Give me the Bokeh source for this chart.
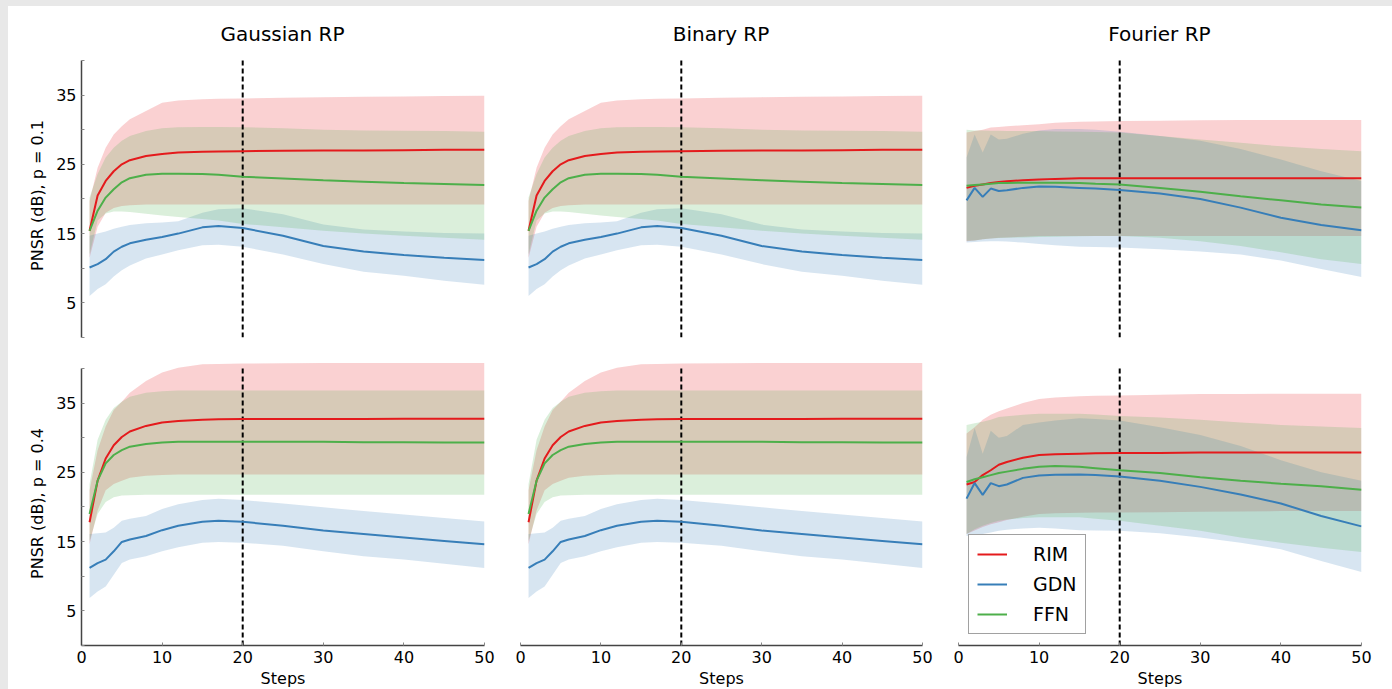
from bokeh.plotting import figure
from bokeh.layouts import column, row
from bokeh.models import ColumnDataSource, FixedTicker, Legend, LegendItem, Div
from bokeh.embed import file_html
from bokeh.resources import INLINE

# ---------------- data ----------------
STEPS = [1, 2, 3, 4, 5, 6, 8, 10, 12, 15, 17, 20, 25, 30, 35, 40, 45, 50]
MARK_STEP = 20
Y_TICKS = [5, 15, 25, 35]
Y_MINOR = [0, 10, 20, 30, 40]
X_TICKS = [0, 10, 20, 30, 40, 50]
COL_TITLES = ["Gaussian RP", "Binary RP", "Fourier RP"]
ROW_LABELS = ["PNSR (dB), p = 0.1", "PNSR (dB), p = 0.4"]
MODELS = ["RIM", "GDN", "FFN"]

# Gaussian RP, p = 0.1
G01_RIM_MEAN = [15.4, 20.5, 22.6, 24.0, 25.0, 25.6, 26.2, 26.5, 26.7, 26.8, 26.85, 26.9, 26.95, 27.0, 27.0, 27.05, 27.1, 27.1]
G01_RIM_HI = [19.7, 24.5, 27.4, 29.3, 30.5, 31.5, 32.7, 33.9, 34.2, 34.4, 34.45, 34.5, 34.6, 34.7, 34.75, 34.8, 34.85, 34.9]
G01_RIM_LO = [11.5, 16.0, 18.0, 18.7, 19.0, 19.1, 19.2, 19.2, 19.2, 19.2, 19.2, 19.2, 19.2, 19.2, 19.2, 19.2, 19.2, 19.2]
G01_GDN_MEAN = [10.1, 10.6, 11.3, 12.4, 13.1, 13.6, 14.1, 14.5, 15.0, 15.9, 16.1, 15.8, 14.7, 13.2, 12.4, 11.9, 11.5, 11.2]
G01_GDN_HI = [14.7, 15.0, 15.3, 15.7, 16.0, 16.25, 16.5, 16.6, 16.8, 18.0, 18.5, 18.65, 17.8, 16.3, 15.6, 15.3, 15.1, 15.0]
G01_GDN_LO = [6.0, 7.0, 7.7, 8.8, 9.7, 10.4, 11.4, 12.0, 12.6, 13.3, 13.4, 13.1, 12.0, 10.6, 9.5, 8.9, 8.2, 7.6]
G01_FFN_MEAN = [15.4, 18.3, 20.2, 21.4, 22.4, 23.0, 23.5, 23.65, 23.65, 23.6, 23.5, 23.2, 22.95, 22.7, 22.5, 22.3, 22.15, 22.0]
G01_FFN_HI = [20.2, 23.6, 26.0, 27.4, 28.4, 29.1, 29.8, 30.2, 30.35, 30.4, 30.4, 30.35, 30.2, 30.0, 29.9, 29.85, 29.8, 29.7]
G01_FFN_LO = [12.0, 16.9, 17.9, 18.2, 18.2, 18.1, 17.85, 17.6, 17.4, 17.1, 16.9, 16.4, 15.9, 15.4, 15.0, 14.7, 14.4, 14.1]

# Gaussian RP, p = 0.4
G04_RIM_MEAN = [17.8, 23.8, 27.0, 28.9, 30.1, 30.9, 31.7, 32.2, 32.4, 32.6, 32.65, 32.7, 32.7, 32.7, 32.7, 32.75, 32.75, 32.75]
G04_RIM_HI = [22.4, 28.2, 31.6, 34.0, 35.2, 36.5, 38.2, 39.4, 40.1, 40.6, 40.65, 40.7, 40.75, 40.8, 40.8, 40.8, 40.8, 40.8]
G04_RIM_LO = [14.6, 19.5, 22.4, 23.3, 23.8, 24.2, 24.5, 24.6, 24.7, 24.7, 24.7, 24.7, 24.7, 24.7, 24.7, 24.7, 24.7, 24.7]
G04_GDN_MEAN = [11.2, 11.9, 12.4, 13.6, 14.95, 15.3, 15.8, 16.65, 17.3, 17.85, 18.0, 17.85, 17.3, 16.6, 16.1, 15.6, 15.1, 14.6]
G04_GDN_HI = [16.1, 16.2, 16.3, 17.0, 18.0, 18.3, 18.7, 19.7, 20.4, 21.0, 21.2, 21.0, 20.5, 19.95, 19.4, 18.9, 18.4, 17.9]
G04_GDN_LO = [6.85, 7.8, 8.5, 10.2, 11.9, 12.4, 12.9, 13.6, 14.2, 14.85, 14.95, 14.85, 14.4, 13.6, 12.9, 12.4, 11.8, 11.2]
G04_FFN_MEAN = [19.0, 23.8, 26.3, 27.5, 28.2, 28.7, 29.1, 29.3, 29.4, 29.4, 29.4, 29.4, 29.4, 29.4, 29.35, 29.35, 29.3, 29.3]
G04_FFN_HI = [23.3, 29.7, 32.6, 34.3, 35.2, 35.9, 36.5, 36.7, 36.8, 36.8, 36.8, 36.8, 36.8, 36.8, 36.8, 36.8, 36.8, 36.8]
G04_FFN_LO = [15.1, 19.0, 20.7, 21.4, 21.65, 21.7, 21.75, 21.75, 21.75, 21.75, 21.75, 21.75, 21.75, 21.75, 21.75, 21.75, 21.75, 21.75]

# Binary RP reads identical to Gaussian RP in both rows
B01_RIM_MEAN, B01_RIM_HI, B01_RIM_LO = G01_RIM_MEAN, G01_RIM_HI, G01_RIM_LO
B01_GDN_MEAN, B01_GDN_HI, B01_GDN_LO = G01_GDN_MEAN, G01_GDN_HI, G01_GDN_LO
B01_FFN_MEAN, B01_FFN_HI, B01_FFN_LO = G01_FFN_MEAN, G01_FFN_HI, G01_FFN_LO
B04_RIM_MEAN, B04_RIM_HI, B04_RIM_LO = G04_RIM_MEAN, G04_RIM_HI, G04_RIM_LO
B04_GDN_MEAN, B04_GDN_HI, B04_GDN_LO = G04_GDN_MEAN, G04_GDN_HI, G04_GDN_LO
B04_FFN_MEAN, B04_FFN_HI, B04_FFN_LO = G04_FFN_MEAN, G04_FFN_HI, G04_FFN_LO

# Fourier RP, p = 0.1
F01_RIM_MEAN = [21.6, 21.9, 22.1, 22.3, 22.45, 22.55, 22.7, 22.8, 22.9, 23.0, 23.0, 23.0, 23.0, 23.0, 23.0, 23.0, 23.0, 23.0]
F01_RIM_HI = [29.6, 29.8, 30.0, 30.3, 30.4, 30.5, 30.65, 30.8, 31.0, 31.15, 31.2, 31.25, 31.3, 31.35, 31.4, 31.4, 31.4, 31.4]
F01_RIM_LO = [13.9, 14.0, 14.2, 14.3, 14.4, 14.45, 14.55, 14.65, 14.65, 14.65, 14.65, 14.65, 14.65, 14.65, 14.65, 14.65, 14.65, 14.65]
F01_GDN_MEAN = [19.8, 21.6, 20.3, 21.5, 21.15, 21.25, 21.6, 21.8, 21.75, 21.6, 21.5, 21.3, 20.8, 20.0, 18.75, 17.3, 16.25, 15.5]
F01_GDN_HI = [26.0, 29.3, 26.7, 29.3, 28.6, 28.7, 29.4, 29.9, 30.1, 30.1, 30.0, 29.7, 29.1, 28.4, 27.2, 25.7, 24.0, 22.6]
F01_GDN_LO = [13.7, 13.8, 13.85, 13.9, 13.9, 13.85, 13.7, 13.5, 13.3, 13.1, 13.05, 13.0, 12.75, 12.4, 12.0, 11.1, 9.9, 8.75]
F01_FFN_MEAN = [21.9, 22.0, 22.1, 22.2, 22.3, 22.3, 22.35, 22.35, 22.35, 22.3, 22.2, 22.1, 21.6, 21.05, 20.4, 19.8, 19.2, 18.75]
F01_FFN_HI = [30.0, 29.9, 29.9, 29.85, 29.85, 29.8, 29.8, 29.8, 29.75, 29.7, 29.65, 29.6, 29.1, 28.6, 28.1, 27.6, 27.2, 26.9]
F01_FFN_LO = [13.95, 14.0, 14.2, 14.3, 14.35, 14.4, 14.45, 14.5, 14.55, 14.6, 14.65, 14.65, 14.4, 13.9, 13.2, 12.3, 11.3, 10.6]

# Fourier RP, p = 0.4
F04_RIM_MEAN = [23.25, 23.6, 24.6, 25.3, 26.1, 26.5, 27.1, 27.5, 27.6, 27.7, 27.75, 27.8, 27.8, 27.85, 27.85, 27.85, 27.85, 27.85]
F04_RIM_HI = [30.6, 31.5, 32.6, 33.3, 33.8, 34.2, 35.0, 35.6, 35.8, 36.0, 36.05, 36.1, 36.2, 36.3, 36.3, 36.35, 36.35, 36.35]
F04_RIM_LO = [16.1, 16.6, 17.1, 17.5, 17.8, 18.1, 18.6, 19.0, 19.1, 19.15, 19.2, 19.2, 19.25, 19.3, 19.35, 19.4, 19.4, 19.4]
F04_GDN_MEAN = [21.2, 23.45, 21.75, 23.45, 23.0, 23.25, 24.2, 24.55, 24.65, 24.7, 24.6, 24.4, 23.8, 22.9, 21.8, 20.5, 18.7, 17.2]
F04_GDN_HI = [27.2, 31.4, 27.7, 31.0, 30.0, 30.25, 31.85, 32.2, 32.5, 32.8, 32.7, 32.5, 31.5, 30.4, 28.8, 26.75, 25.0, 23.8]
F04_GDN_LO = [15.8, 15.9, 16.1, 16.3, 16.55, 16.7, 16.9, 17.0, 16.9, 16.65, 16.6, 16.55, 16.2, 15.6, 14.85, 13.9, 12.2, 10.6]
F04_FFN_MEAN = [23.6, 24.0, 24.3, 24.6, 24.9, 25.1, 25.5, 25.8, 25.9, 25.8, 25.6, 25.3, 24.9, 24.3, 23.8, 23.35, 23.0, 22.5]
F04_FFN_HI = [31.85, 32.1, 32.3, 32.6, 33.0, 33.1, 33.3, 33.45, 33.45, 33.45, 33.35, 33.15, 32.9, 32.6, 32.2, 31.85, 31.6, 31.4]
F04_FFN_LO = [16.1, 16.8, 17.3, 17.7, 18.0, 18.2, 18.4, 18.5, 18.5, 18.5, 18.3, 18.0, 17.3, 16.55, 15.6, 14.85, 14.1, 13.5]

PANELS = [
    [  # row p = 0.1
        {"RIM": (G01_RIM_MEAN, G01_RIM_LO, G01_RIM_HI), "GDN": (G01_GDN_MEAN, G01_GDN_LO, G01_GDN_HI), "FFN": (G01_FFN_MEAN, G01_FFN_LO, G01_FFN_HI)},
        {"RIM": (B01_RIM_MEAN, B01_RIM_LO, B01_RIM_HI), "GDN": (B01_GDN_MEAN, B01_GDN_LO, B01_GDN_HI), "FFN": (B01_FFN_MEAN, B01_FFN_LO, B01_FFN_HI)},
        {"RIM": (F01_RIM_MEAN, F01_RIM_LO, F01_RIM_HI), "GDN": (F01_GDN_MEAN, F01_GDN_LO, F01_GDN_HI), "FFN": (F01_FFN_MEAN, F01_FFN_LO, F01_FFN_HI)},
    ],
    [  # row p = 0.4
        {"RIM": (G04_RIM_MEAN, G04_RIM_LO, G04_RIM_HI), "GDN": (G04_GDN_MEAN, G04_GDN_LO, G04_GDN_HI), "FFN": (G04_FFN_MEAN, G04_FFN_LO, G04_FFN_HI)},
        {"RIM": (B04_RIM_MEAN, B04_RIM_LO, B04_RIM_HI), "GDN": (B04_GDN_MEAN, B04_GDN_LO, B04_GDN_HI), "FFN": (B04_FFN_MEAN, B04_FFN_LO, B04_FFN_HI)},
        {"RIM": (F04_RIM_MEAN, F04_RIM_LO, F04_RIM_HI), "GDN": (F04_GDN_MEAN, F04_GDN_LO, F04_GDN_HI), "FFN": (F04_FFN_MEAN, F04_FFN_LO, F04_FFN_HI)},
    ],
]

# ---------------- style ----------------
COLORS = {"RIM": "#e41a1c", "GDN": "#377eb8", "FFN": "#4daf4a"}
FONT = "DejaVu Sans"
FRAME_W = [403, 402, 403]
FRAME_H = 284
BORDER_L = [73, 18, 18]
BORDER_R = [18, 18, 31]
TITLE_H = 40          # height of the title strip above the top row
BORDER_T = [7, 9]
BORDER_B = [15, 44]
Y_RANGE = (0, 41)
X_RANGE = (0, 50)
Y_AXIS_BOUNDS = (0, 40)


def style_axis(ax):
    ax.axis_line_color = "#444444"
    ax.axis_line_width = 1.5
    ax.major_tick_line_color = "#888888"
    ax.minor_tick_line_color = "#888888"
    ax.major_tick_in = 3
    ax.major_tick_out = 0
    ax.minor_tick_in = 3
    ax.minor_tick_out = 0
    ax.major_label_text_font = FONT
    ax.major_label_text_font_size = "16px"
    ax.major_label_text_color = "#000000"
    ax.axis_label_text_font = FONT
    ax.axis_label_text_font_size = "16px"
    ax.axis_label_text_font_style = "normal"
    ax.axis_label_text_color = "#000000"


title_divs = []
for c in range(3):
    fig_w = BORDER_L[c] + FRAME_W[c] + BORDER_R[c]
    html_text = (
        f'<div style="margin-left:{BORDER_L[c]}px;width:{FRAME_W[c]}px;'
        f'padding-top:18px;line-height:20px;text-align:center;'
        f'font-family:\'{FONT}\';font-size:20px;color:#000;">{COL_TITLES[c]}</div>'
    )
    title_divs.append(Div(text=html_text, width=fig_w, height=TITLE_H,
                          margin=0, styles={"background-color": "white"}))

rows = [row(*title_divs, spacing=0)]
legend_fig = None
legend_items = []
for r in range(2):
    figs = []
    for c in range(3):
        p = figure(
            frame_width=FRAME_W[c], frame_height=FRAME_H,
            x_range=X_RANGE, y_range=Y_RANGE,
            output_backend="svg", toolbar_location=None,
            x_axis_location="below" if r == 1 else None,
            y_axis_location="left" if c == 0 else None,
            min_border_left=BORDER_L[c], min_border_right=BORDER_R[c],
            min_border_top=BORDER_T[r], min_border_bottom=BORDER_B[r],
        )
        p.outline_line_color = None
        p.grid.visible = False
        p.background_fill_color = "white"
        p.border_fill_color = "white"
        if c == 0:
            ya = p.yaxis[0]
            ya.ticker = FixedTicker(ticks=Y_TICKS, minor_ticks=Y_MINOR)
            ya.bounds = Y_AXIS_BOUNDS
            ya.axis_label = ROW_LABELS[r]
            style_axis(ya)
            ya.major_label_standoff = 5
            ya.axis_label_standoff = 6
        if r == 1:
            xa = p.xaxis[0]
            xa.ticker = FixedTicker(ticks=X_TICKS)
            xa.axis_label = "Steps"
            style_axis(xa)
            xa.major_label_standoff = 5
            xa.axis_label_standoff = 3

        data = PANELS[r][c]
        # bands
        for m in MODELS:
            mean, lo, hi = data[m]
            src = ColumnDataSource(dict(x=STEPS, lo=lo, hi=hi))
            p.varea(x="x", y1="lo", y2="hi", source=src,
                    fill_color=COLORS[m], fill_alpha=0.2)
        # dashed marker at step 20
        p.segment(x0=[MARK_STEP], y0=[Y_AXIS_BOUNDS[0]], x1=[MARK_STEP], y1=[Y_AXIS_BOUNDS[1]],
                  line_color="black", line_width=2, line_dash="5 3")
        # mean lines
        for m in MODELS:
            mean, lo, hi = data[m]
            src = ColumnDataSource(dict(x=STEPS, y=mean))
            rl = p.line(x="x", y="y", source=src, line_color=COLORS[m], line_width=2)
            if r == 1 and c == 2:
                legend_items.append(LegendItem(label=m, renderers=[rl]))
        if r == 1 and c == 2:
            legend_fig = p
        figs.append(p)
    rows.append(row(*figs, spacing=0))

legend = Legend(items=legend_items, location=(10, 11), margin=0,
                padding=8, spacing=8, glyph_width=30, glyph_height=20,
                label_height=20, label_standoff=26,
                label_text_font=FONT, label_text_font_size="19px",
                label_text_color="#000000",
                border_line_color="#444444", border_line_width=1.5,
                background_fill_color="white", background_fill_alpha=1.0)
legend_fig.add_layout(legend)

layout = column(*rows, spacing=0)
layout.styles = {"background-color": "white"}

html = file_html(layout, INLINE, title="PSNR")
css = ("<style>html,body{margin:0 !important;padding:0 !important;overflow:hidden !important;"
       "background:#e8e8e8 !important;} body{padding:6px 0 0 8px !important;}</style>")
html = html.replace("</head>", css + "</head>", 1)
open("out.html", "w").write(html)
